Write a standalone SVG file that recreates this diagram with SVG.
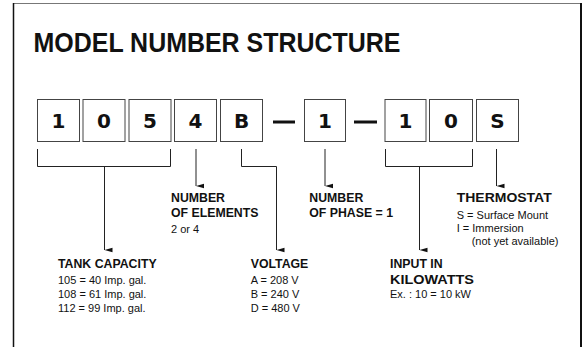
<svg xmlns="http://www.w3.org/2000/svg" width="587" height="347" viewBox="0 0 587 347">
<style>
text{font-family:"Liberation Sans",Arial,sans-serif;fill:#111}
.title{font-size:28px;font-weight:bold}
.digit{font-family:"DejaVu Sans","Liberation Sans",sans-serif;font-size:20px;font-weight:bold;text-anchor:middle}
.box{fill:#fff;stroke:#444;stroke-width:1}
.lbl{font-size:12.3px;font-weight:bold}
.txt{font-size:11px}
.ln{fill:none;stroke:#222;stroke-width:1}
.dash{stroke:#111;stroke-width:3}
</style>
<defs>
<marker id="ah" markerUnits="userSpaceOnUse" markerWidth="6" markerHeight="9" refX="3" refY="8" orient="auto-start-reverse" viewBox="0 0 6 9">
<path d="M0.8,0 L5.2,0 L3,8 z" fill="#111"/>
</marker>
</defs>
<rect width="587" height="347" fill="#fff"/>
<g id="frame">
<line x1="13" y1="3.5" x2="582" y2="3.5" stroke="#777" stroke-width="1"/>
<line x1="13.5" y1="3" x2="13.5" y2="347" stroke="#111" stroke-width="1.5"/>
<line x1="581" y1="3" x2="581" y2="347" stroke="#111" stroke-width="2"/>
</g>
<text class="title" x="33.5" y="52" textLength="367" lengthAdjust="spacingAndGlyphs">MODEL NUMBER STRUCTURE</text>
<g id="d1"><rect class="box" x="37.5" y="99.5" width="42" height="42"/><text class="digit" x="58.5" y="127.5">1</text></g>
<g id="d2"><rect class="box" x="83" y="99.5" width="42" height="42"/><text class="digit" x="104" y="127.5">0</text></g>
<g id="d3"><rect class="box" x="129" y="99.5" width="42" height="42"/><text class="digit" x="150" y="127.5">5</text></g>
<g id="d4"><rect class="box" x="174.5" y="99.5" width="42" height="42"/><text class="digit" x="195.5" y="127.5">4</text></g>
<g id="d5"><rect class="box" x="220.5" y="99.5" width="42" height="42"/><text class="digit" x="241.5" y="127.5">B</text></g>
<g id="dash1"><line class="dash" x1="273" y1="122" x2="295" y2="122"/></g>
<g id="d6"><rect class="box" x="304.5" y="99.5" width="41" height="42"/><text class="digit" x="325" y="127.5">1</text></g>
<g id="dash2"><line class="dash" x1="354" y1="122" x2="377" y2="122"/></g>
<g id="d7"><rect class="box" x="385" y="99.5" width="41" height="42"/><text class="digit" x="405.5" y="127.5">1</text></g>
<g id="d8"><rect class="box" x="429.5" y="99.5" width="43" height="42"/><text class="digit" x="451" y="127.5">0</text></g>
<g id="d9"><rect class="box" x="476.5" y="99.5" width="42" height="42"/><text class="digit" x="497.5" y="127.5">S</text></g>
<g id="connectors">
<path class="ln" d="M37.5,149 V166.5 H170.5 V149 M104.5,166.5 V250" marker-end="url(#ah)"/>
<path class="ln" d="M196,149 V186" marker-end="url(#ah)"/>
<path class="ln" d="M241.5,149 V166.5 H276.5 V250" marker-end="url(#ah)"/>
<path class="ln" d="M325,149 V186" marker-end="url(#ah)"/>
<path class="ln" d="M385.5,149 V166.5 H472.5 V149 M419.5,166.5 V250" marker-end="url(#ah)"/>
<path class="ln" d="M496.5,149 V186" marker-end="url(#ah)"/>
</g>
<g id="elements">
<text class="lbl" x="171" y="201.7">NUMBER</text>
<text class="lbl" x="171" y="217.3">OF ELEMENTS</text>
<text class="txt" x="171" y="232.7">2 or 4</text>
</g>
<g id="phase">
<text class="lbl" x="309.3" y="201.7">NUMBER</text>
<text class="lbl" x="309.3" y="217.3">OF PHASE = 1</text>
</g>
<g id="thermostat">
<text class="lbl" x="456.7" y="201.7" textLength="95" lengthAdjust="spacingAndGlyphs">THERMOSTAT</text>
<text class="txt" x="456.7" y="218.5">S = Surface Mount</text>
<text class="txt" x="456.7" y="231.5">I = Immersion</text>
<text class="txt" x="471.7" y="245">(not yet available)</text>
</g>
<g id="tank">
<text class="lbl" x="58" y="268.3">TANK CAPACITY</text>
<text class="txt" x="58" y="284">105 = 40 Imp. gal.</text>
<text class="txt" x="58" y="298.3">108 = 61 Imp. gal.</text>
<text class="txt" x="58" y="312.3">112 = 99 Imp. gal.</text>
</g>
<g id="voltage">
<text class="lbl" x="250.7" y="268.3">VOLTAGE</text>
<text class="txt" x="250.7" y="284">A = 208 V</text>
<text class="txt" x="250.7" y="298.3">B = 240 V</text>
<text class="txt" x="250.7" y="312.3">D = 480 V</text>
</g>
<g id="input">
<text class="lbl" x="390" y="268.3">INPUT IN</text>
<text class="lbl" x="390" y="284.3" textLength="84" lengthAdjust="spacingAndGlyphs">KILOWATTS</text>
<text class="txt" x="390" y="298.3">Ex. : 10 = 10 kW</text>
</g>
</svg>
